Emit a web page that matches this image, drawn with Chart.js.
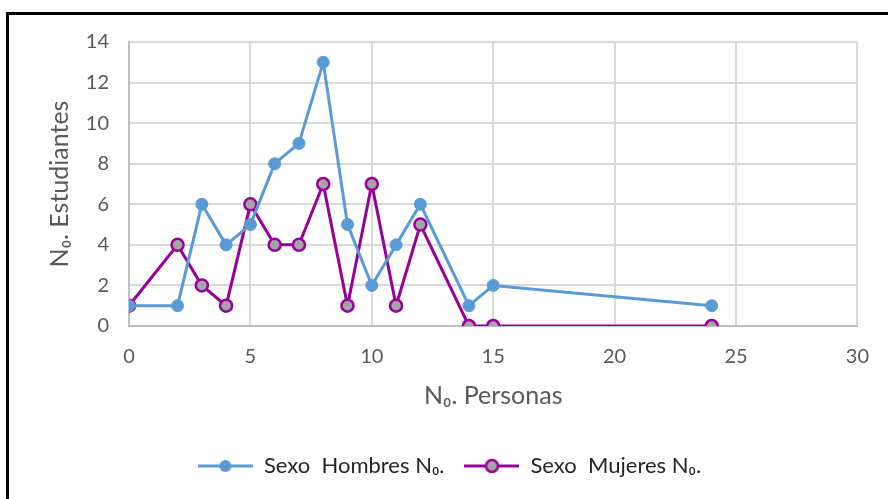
<!DOCTYPE html>
<html>
<head>
<meta charset="utf-8">
<script src="https://cdn.jsdelivr.net/npm/chart.js@4"></script>
<style>
  html, body { margin: 0; padding: 0; background: #fff; }
  #wrap { position: relative; width: 888px; height: 499px; overflow: hidden; }
  #frame { position: absolute; left: 6px; top: 12px; width: 900px; height: 520px;
           border-left: 3px solid #000; border-top: 3px solid #000; box-sizing: border-box; }
  canvas { position: absolute; left: 0; top: 0; }
</style>
</head>
<body>
<div id="wrap">
  <div id="frame"></div>
  <canvas id="chart" width="888" height="499"></canvas>
</div>
<script>
const personas = [0, 2, 3, 4, 5, 6, 7, 8, 9, 10, 11, 12, 14, 15, 24];
const hombres  = [1, 1, 6, 4, 5, 8, 9, 13, 5, 2, 4, 6, 1, 2, 1];
const mujeres  = [1, 4, 2, 1, 6, 4, 4, 7, 1, 7, 1, 5, 0, 0, 0];
const seriesNames = ['Sexo  Hombres N\u2080.', 'Sexo  Mujeres N\u2080.'];

const blue = '#5B9BD5';
const purple = '#990099';
const gray = '#A5A5A5';
const fontFamily = 'Lato, "Open Sans", sans-serif';

// legend marker: short line with the point in the middle
function legendIcon(lineColor, fill, border) {
    const c = document.createElement('canvas');
    c.width = 55; c.height = 16;
    const g = c.getContext('2d');
    g.strokeStyle = lineColor;
    g.lineWidth = 3;
    g.beginPath(); g.moveTo(0, 8); g.lineTo(55, 8); g.stroke();
    g.beginPath(); g.arc(27.5, 8, 6, 0, Math.PI * 2);
    g.fillStyle = fill; g.fill();
    if (border) { g.lineWidth = 2.5; g.strokeStyle = border; g.stroke(); }
    return c;
}
const icons = [legendIcon(blue, blue, null), legendIcon(purple, gray, purple)];

new Chart(document.getElementById('chart').getContext('2d'), {
    type: 'line',
    data: {
        datasets: [{
            label: seriesNames[0],
            data: personas.map((p, i) => ({ x: p, y: hombres[i] })),
            borderColor: blue,
            backgroundColor: blue,
            pointBackgroundColor: blue,
            pointBorderColor: blue,
            borderWidth: 3,
            pointRadius: 6,
            pointBorderWidth: 1
        }, {
            label: seriesNames[1],
            data: personas.map((p, i) => ({ x: p, y: mujeres[i] })),
            borderColor: purple,
            backgroundColor: gray,
            pointBackgroundColor: gray,
            pointBorderColor: purple,
            borderWidth: 3,
            pointRadius: 6,
            pointBorderWidth: 2.5
        }]
    },
    options: {
        responsive: false,
        animation: false,
        layout: { padding: { left: 38, top: 42, right: 27, bottom: 12 } },
        plugins: {
            tooltip: { enabled: false },
            legend: {
                position: 'bottom',
                labels: {
                    usePointStyle: true,
                    pointStyleWidth: 55,
                    color: '#262626',
                    font: { family: fontFamily, size: 22 },
                    padding: 20,
                    generateLabels: chart => chart.data.datasets.map((ds, i) => ({
                        text: ds.label,
                        pointStyle: icons[i],
                        datasetIndex: i,
                        fontColor: '#262626',
                        lineWidth: 0
                    }))
                }
            }
        },
        scales: {
            x: {
                type: 'linear',
                min: 0, max: 30,
                ticks: { stepSize: 5, color: '#595959', font: { family: fontFamily, size: 20 }, padding: 19 },
                grid: { color: '#D9D9D9', lineWidth: 2, drawTicks: false },
                border: { color: '#BFBFBF', width: 2 },
                title: { display: true, text: 'N\u2080. Personas', color: '#595959',
                         font: { family: fontFamily, size: 25 }, padding: { top: 0, bottom: 24 } },
                afterFit: s => { s.height = 109; }
            },
            y: {
                min: 0, max: 14,
                ticks: { stepSize: 2, color: '#595959', font: { family: fontFamily, size: 20 }, padding: 20 },
                grid: { color: '#D9D9D9', lineWidth: 2, drawTicks: false },
                border: { color: '#BFBFBF', width: 2 },
                title: { display: true, text: 'N\u2080. Estudiantes', color: '#595959',
                         font: { family: fontFamily, size: 25 }, padding: { top: 7, bottom: 0 } },
                afterFit: s => { s.width = 91; }
            }
        }
    }
});
</script>
</body>
</html>
